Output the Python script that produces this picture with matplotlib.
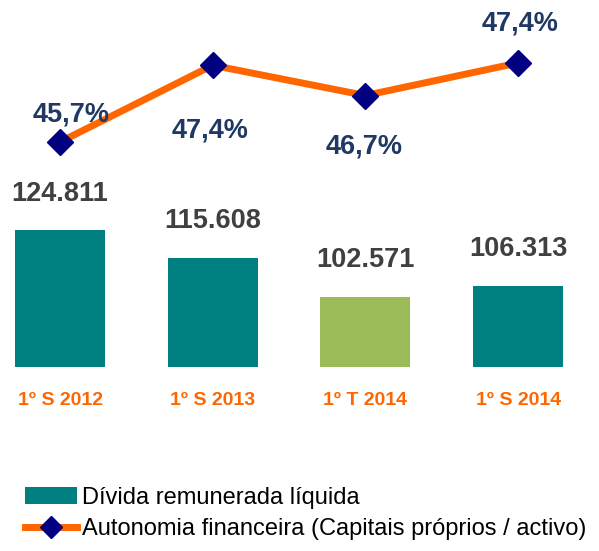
import matplotlib
matplotlib.use("Agg")
import matplotlib.pyplot as plt
from matplotlib.lines import Line2D
from matplotlib.patches import Patch

plt.rcParams['font.family'] = ['Liberation Sans', 'DejaVu Sans']

categories = ["1º S 2012", "1º S 2013", "1º T 2014", "1º S 2014"]
debt = [124.811, 115.608, 102.571, 106.313]
debt_labels = ["124.811", "115.608", "102.571", "106.313"]
autonomy = [45.7, 47.35, 46.7, 47.4]
autonomy_labels = ["45,7%", "47,4%", "46,7%", "47,4%"]
bar_colors = ["#008080", "#008080", "#9BBB59", "#008080"]
base = 79.3

fig = plt.figure(figsize=(5.99, 5.51), dpi=100)
ax = fig.add_axes([0, 0, 1, 1])
x = range(len(categories))

ax.bar(x, [v - base for v in debt], width=0.59, color=bar_colors, bottom=base)
ax.set_xlim(-0.393, 3.53)
ax.set_ylim(18.2, 201.2)
ax.axis("off")

for i, v in enumerate(debt):
    ax.text(i, v + 7.8, debt_labels[i], ha="center", va="bottom",
            fontsize=19.5, fontweight="bold", color="#404040")
    ax.text(i, 68.3, categories[i], ha="center", va="center",
            fontsize=14, fontweight="bold", color="#FF6600")

ax2 = ax.twinx()
ax2.set_position([0, 0, 1, 1])
ax2.plot(x, autonomy, color="#FF6600", lw=5, marker="D", markersize=13,
         markerfacecolor="#000080", markeredgecolor="#000080", zorder=3)
ax2.set_ylim(36.904, 48.754)
ax2.axis("off")

offsets = [(0.07, 0.6), (-0.02, -1.4), (-0.01, -1.1), (0.01, 0.85)]
for i, v in enumerate(autonomy):
    dx, dy = offsets[i]
    ax2.text(i + dx, v + dy, autonomy_labels[i], ha="center", va="center",
             fontsize=19.5, fontweight="bold", color="#1F3864")

handles = [
    Patch(facecolor="#008080", edgecolor="none"),
    Line2D([], [], color="#FF6600", lw=5, marker="D", markersize=11,
           markerfacecolor="#000080", markeredgecolor="#000080"),
]
labels = ["Dívida remunerada líquida", "Autonomia financeira (Capitais próprios / activo)"]
fig.legend(handles, labels, loc="upper left", bbox_to_anchor=(0.042, 0.117),
           frameon=False, fontsize=17, handlelength=2.2, handletextpad=0.2,
           labelspacing=0.4, borderpad=0, borderaxespad=0)

fig.savefig("out.png", dpi=100)
